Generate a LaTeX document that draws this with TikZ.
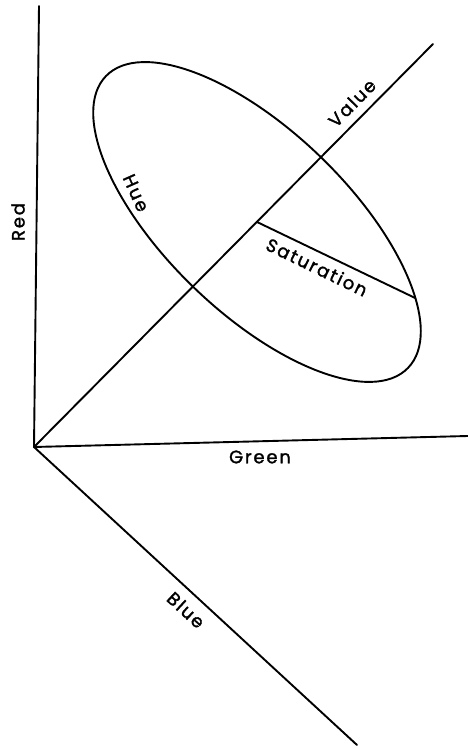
\documentclass[tikz,border=0pt]{standalone}
\usepackage{fontspec}
\newfontfamily\letteringfont[LetterSpace=10, FakeBold=1.6]{Poppins}
\usetikzlibrary{calc}
\tikzset{
    axisline/.style={
        line width=1.9pt,
        line cap=round
    },
    axislabel/.style={
        font=\letteringfont\fontsize{18}{20}\selectfont,
        inner sep=0pt
    }
}

\begin{document}
\begin{tikzpicture}[x=1pt, y=1pt]
\useasboundingbox (0,0) rectangle (468,749);

% RGB cube corner and the value diagonal
\coordinate (orig) at (34,302);
\coordinate (redend) at (39,743);
\coordinate (greenend) at (468,313);
\coordinate (blueend) at (357,4);
\coordinate (valend) at (433,705);
\coordinate (hsvc) at (257,527);

\draw[axisline] (orig) -- (redend);
\draw[axisline] (orig) -- (greenend);
\draw[axisline] (orig) -- (blueend);
\draw[axisline] (orig) -- (valend);

% Hue ellipse round the value axis
\begin{scope}[shift={(hsvc)}, rotate=-44]
    \draw[axisline] (0,0) ellipse [x radius=210, y radius=91];
    \coordinate (satend) at (37.4:210pt and 91pt);
\end{scope}
\draw[axisline] (hsvc) -- (satend);

\node[axislabel, rotate=90] (redlbl) at (18,527) {Red};
\node[axislabel] (greenlbl) at (260,292) {Green};
\node[axislabel, rotate=-42.8] (bluelbl) at (186,139) {Blue};
\node[axislabel, rotate=45.3] (vallbl) at (352,646) {Value};
\node[axislabel, rotate=-66] (huelbl) at (136,556) {Hue};
\node[axislabel, rotate=-25.8] (satlbl) at (317,482) {Saturation};

\end{tikzpicture}
\end{document}
